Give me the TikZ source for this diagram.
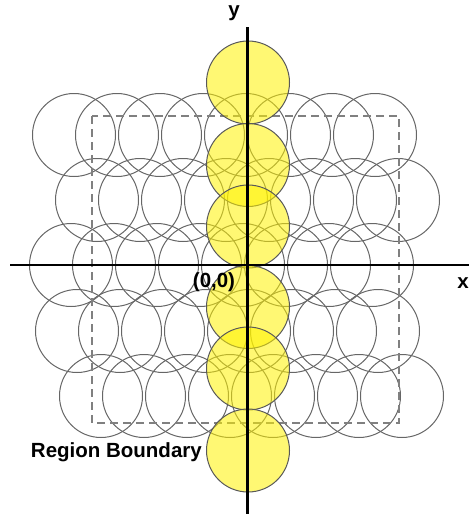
\documentclass[tikz,border=0pt]{standalone}
\usepackage{fontspec}
\setmainfont{Liberation Sans}
\begin{document}
\begin{tikzpicture}[x=1pt,y=-1pt,
	cell/.style={draw=black!60,line width=1pt},
	pick/.style={draw=black!65,line width=1pt,fill=yellow,fill opacity=0.55},
	axis/.style={black,line width=2.4pt},
	lbl/.style={font=\fontsize{20.5}{24}\selectfont\bfseries,inner sep=0pt}]

	\useasboundingbox (0,0) rectangle (469,514);

	% rows of circles
	\foreach \y/\x in {135/74,200/97,265/71,331/77,396/101}
		\foreach \k in {0,...,7}
			\draw[cell] (\x+43*\k,\y) circle (41.5);

	% region boundary
	\draw[gray,line width=1.4pt,dash pattern=on 8pt off 5pt] (92,116) rectangle (399,423);

	% selected circles
	\foreach \y in {82.5,165,226.5,307,368.5,450.5}
		\draw[pick] (248,\y) circle (41.5);

	\coordinate (xl) at (10,265);
	\coordinate (xr) at (469,265);
	\coordinate (yt) at (247.5,27);
	\coordinate (yb) at (247.5,514);
	\draw[axis] (xl) -- (xr);
	\draw[axis] (yt) -- (yb);

	\node[lbl] (ylab) at (234,13) {y};
	\node[lbl] (xlab) at (463,283) {x};
	\node[lbl] (orig) at (214,282) {(0,0)};
	\node[lbl,anchor=east] (rb) at (202,452) {Region Boundary};

\end{tikzpicture}
\end{document}
